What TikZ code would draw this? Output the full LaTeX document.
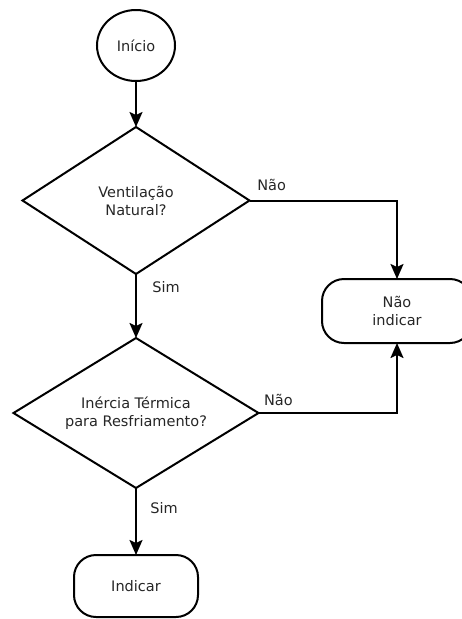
\documentclass[tikz,border=0pt]{standalone}
\usepackage{fontspec}
\setmainfont{DejaVu Sans}
\usepackage{tikz}
\usetikzlibrary{shapes.geometric, arrows.meta, positioning}

\begin{document}
\begin{tikzpicture}[
    x=1pt, y=-1pt,
    font=\fontsize{14.5}{18}\selectfont,
    every node/.style={text=black!85},
    term/.style={ellipse, draw=black, line width=2pt, outer sep=0pt, minimum width=78pt, minimum height=71pt, inner sep=0pt},
    dec/.style={diamond, draw=black, line width=2pt, outer sep=0pt, aspect=1.6, inner sep=0pt, align=center},
    fim/.style={rectangle, rounded corners=22pt, draw=black, line width=2pt, outer sep=0pt, align=center},
    arr/.style={-{Stealth[length=15pt, width=13pt, inset=3pt]}, line width=2pt},
    lbl/.style={inner sep=3.3pt},
  ]
    \useasboundingbox (0,0) rectangle (462,619);

    % Start
    \node[term] (inicio) at (136,45.5) {Início};

    % Decisions
    \node[dec, minimum width=227pt, minimum height=147pt, below=46pt of inicio] (vent) {Ventilação\\Natural?};
    \node[dec, minimum width=245pt, minimum height=150pt, below=64pt of vent] (inercia) {Inércia Térmica\\para Resfriamento?};

    % Outcomes
    \node[fim, minimum width=124pt, minimum height=62pt, below=67pt of inercia] (indicar) {Indicar};
    \node[fim, minimum width=150pt, minimum height=64pt] (naoind) at (397,311) {Não\\indicar};

    % Connectors
    \draw[arr] (inicio) -- (vent);
    \draw[arr] (vent) -- node[lbl, pos=0.2, right=12pt] {Sim} (inercia);
    \draw[arr] (inercia) -- node[lbl, pos=0.3, right=10pt] {Sim} (indicar);
    \draw[arr] (vent.east) -| node[lbl, pos=0.075, above=5pt] {Não} (naoind);
    \draw[arr] (inercia.east) -| node[lbl, pos=0.072, above=3pt] {Não} (naoind);
  \end{tikzpicture}
\end{document}
